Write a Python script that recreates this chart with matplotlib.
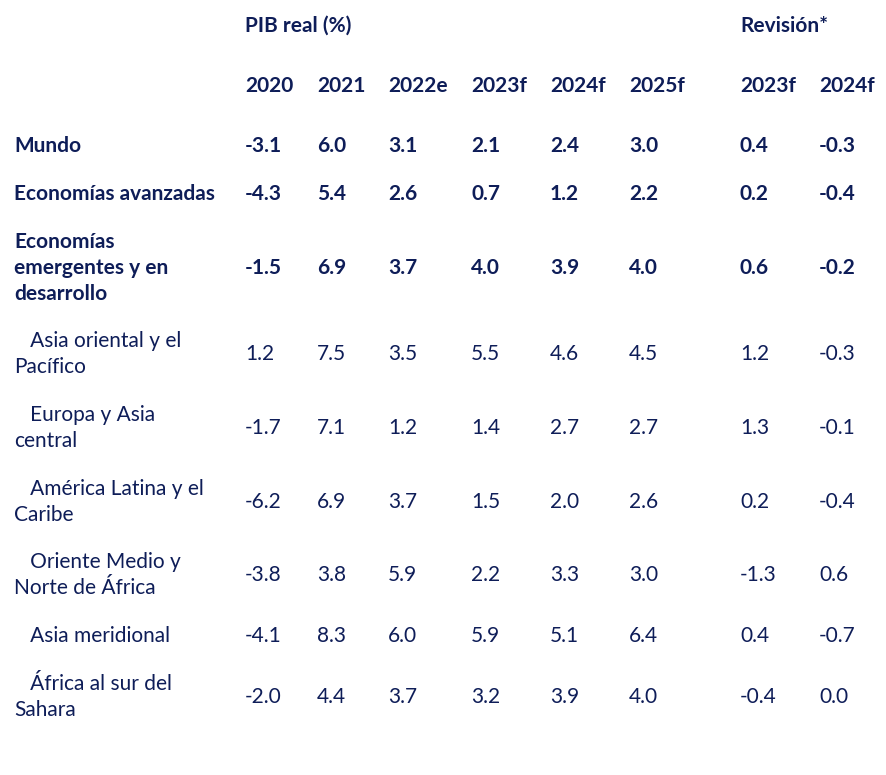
import matplotlib
matplotlib.use("Agg")
import matplotlib.pyplot as plt

# table content
group_header = "PIB real (%)"
rev_header = "Revisión*"
years = ["2020", "2021", "2022e", "2023f", "2024f", "2025f"]
rev_years = ["2023f", "2024f"]

labels = [
    "Mundo",
    "Economías avanzadas",
    "Economías\nemergentes y en\ndesarrollo",
    "   Asia oriental y el\nPacífico",
    "   Europa y Asia\ncentral",
    "   América Latina y el\nCaribe",
    "   Oriente Medio y\nNorte de África",
    "   Asia meridional",
    "   África al sur del\nSahara",
]
bold_rows = [True, True, True, False, False, False, False, False, False]

pib = [
    ["-3.1", "6.0", "3.1", "2.1", "2.4", "3.0"],
    ["-4.3", "5.4", "2.6", "0.7", "1.2", "2.2"],
    ["-1.5", "6.9", "3.7", "4.0", "3.9", "4.0"],
    ["1.2", "7.5", "3.5", "5.5", "4.6", "4.5"],
    ["-1.7", "7.1", "1.2", "1.4", "2.7", "2.7"],
    ["-6.2", "6.9", "3.7", "1.5", "2.0", "2.6"],
    ["-3.8", "3.8", "5.9", "2.2", "3.3", "3.0"],
    ["-4.1", "8.3", "6.0", "5.9", "5.1", "6.4"],
    ["-2.0", "4.4", "3.7", "3.2", "3.9", "4.0"],
]
revision = [
    ["0.4", "-0.3"],
    ["0.2", "-0.4"],
    ["0.6", "-0.2"],
    ["1.2", "-0.3"],
    ["1.3", "-0.1"],
    ["0.2", "-0.4"],
    ["-1.3", "0.6"],
    ["0.4", "-0.7"],
    ["-0.4", "0.0"],
]

W, H = 886, 775
navy = "#0e1d58"
fsize = 15
line_gap = 26
plt.rcParams['font.family'] = ['Lato', 'DejaVu Sans']

fig = plt.figure(figsize=(W / 100, H / 100), dpi=100)
fig.patch.set_facecolor("white")

col_x = [245, 317, 388, 471, 550, 629]
rev_x = [740, 819]
label_x = 14
row_y = [144, 192, 266, 352, 426, 500, 573, 634, 695]


def put(x, y, s, bold=False):
    fig.text(x / W, 1 - y / H, s, color=navy, fontsize=fsize,
             fontweight="bold" if bold else "normal",
             ha="left", va="center_baseline")


put(col_x[0], 24, group_header, bold=True)
put(rev_x[0], 24, rev_header, bold=True)
for x, yr in zip(col_x, years):
    put(x, 84, yr, bold=True)
for x, yr in zip(rev_x, rev_years):
    put(x, 84, yr, bold=True)

for i, lab in enumerate(labels):
    b = bold_rows[i]
    y = row_y[i]
    lines = lab.split("\n")
    n = len(lines)
    for k, ln in enumerate(lines):
        put(label_x, y + (k - (n - 1) / 2) * line_gap, ln, bold=b)
    for x, v in zip(col_x, pib[i]):
        put(x, y, v, bold=b)
    for x, v in zip(rev_x, revision[i]):
        put(x, y, v, bold=b)

fig.savefig("out.png", dpi=100, facecolor="white")
